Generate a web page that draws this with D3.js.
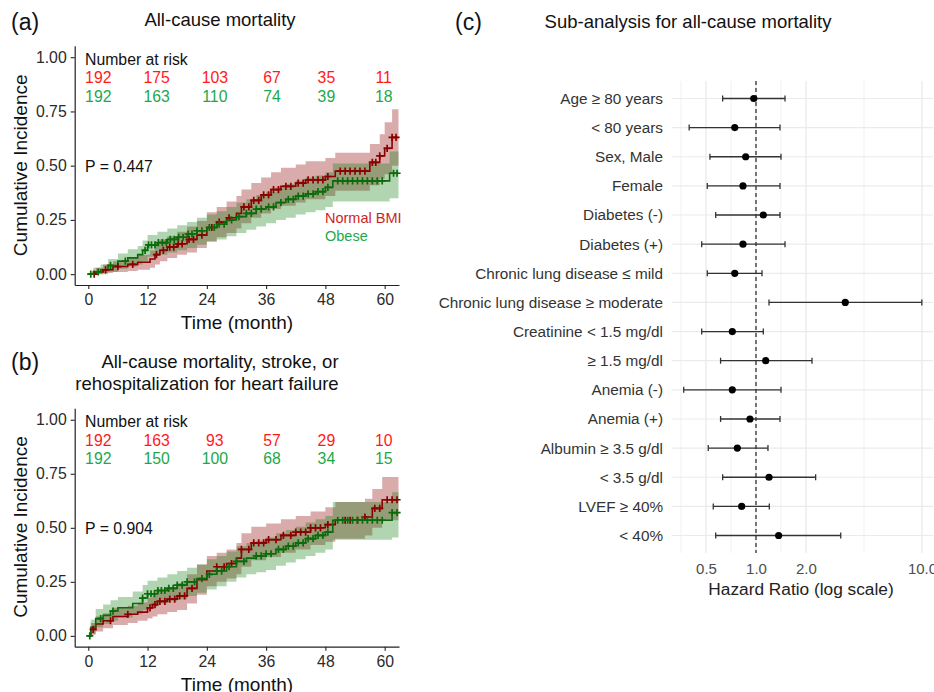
<!DOCTYPE html>
<html>
<head>
<meta charset="utf-8">
<script src="https://cdn.jsdelivr.net/npm/d3@7/dist/d3.min.js"></script>
<style>
body { margin: 0; background: #fff; }
svg text { font-family: "Liberation Sans", Arial, sans-serif; }
</style>
</head>
<body>
<svg id="fig" width="934" height="692"></svg>
<script>
// ---- data ----
var kmTicksX = [0, 12, 24, 36, 48, 60];
var kmTicksY = [0, 0.25, 0.5, 0.75, 1];
var groupNames = ["Normal BMI", "Obese"];

// (a) all-cause mortality
var aNormalTime = [0, 1.5, 3, 5, 8, 10, 12.5, 13.5, 14.5, 16, 18, 20, 22, 24, 26, 28, 30, 31, 33, 35, 37, 39, 42, 44, 48, 50, 57, 59, 60, 61.5];
var aNormalEst  = [0, 0.01, 0.02, 0.035, 0.045, 0.055, 0.07, 0.09, 0.11, 0.125, 0.14, 0.16, 0.18, 0.215, 0.24, 0.26, 0.28, 0.31, 0.34, 0.365, 0.39, 0.405, 0.42, 0.435, 0.45, 0.475, 0.515, 0.545, 0.58, 0.63];
var aNormalLow  = [0, 0, 0.005, 0.01, 0.015, 0.02, 0.03, 0.045, 0.06, 0.075, 0.09, 0.10, 0.12, 0.15, 0.17, 0.19, 0.21, 0.235, 0.26, 0.28, 0.30, 0.315, 0.33, 0.345, 0.36, 0.385, 0.41, 0.44, 0.46, 0.50];
var aNormalUpp  = [0, 0.03, 0.045, 0.06, 0.075, 0.09, 0.11, 0.135, 0.16, 0.175, 0.195, 0.22, 0.245, 0.285, 0.31, 0.335, 0.36, 0.39, 0.42, 0.445, 0.47, 0.49, 0.505, 0.52, 0.535, 0.56, 0.60, 0.645, 0.70, 0.76];
var aNormalCens = [1.2, 3.5, 6, 9, 13.8, 15.2, 16.5, 17.3, 18.2, 19, 20.4, 21.3, 23, 25, 26.5, 28.5, 31.5, 32.5, 33.5, 34.5, 35.5, 36.5, 37.5, 38.5, 40, 41, 42.5, 43.5, 44.5, 45.5, 46.5, 47.5, 48.5, 51, 52, 53, 54, 55, 56, 57.5, 58.2, 59, 60.5, 61.5, 62.3];

var aObeseTime = [0, 1, 2.5, 4, 6, 8, 10, 11, 12, 14, 16, 18, 20, 22, 24, 26, 28, 30, 32, 34, 36, 38, 40, 42, 44, 46, 48, 49.5, 61];
var aObeseEst  = [0, 0.01, 0.02, 0.04, 0.06, 0.075, 0.09, 0.11, 0.135, 0.145, 0.16, 0.17, 0.185, 0.20, 0.215, 0.23, 0.25, 0.265, 0.28, 0.30, 0.31, 0.33, 0.345, 0.36, 0.37, 0.38, 0.40, 0.43, 0.465];
var aObeseLow  = [0, 0, 0, 0.01, 0.025, 0.035, 0.045, 0.06, 0.08, 0.09, 0.10, 0.11, 0.12, 0.135, 0.15, 0.16, 0.175, 0.19, 0.205, 0.22, 0.235, 0.25, 0.26, 0.275, 0.285, 0.295, 0.31, 0.335, 0.35];
var aObeseUpp  = [0, 0.03, 0.045, 0.07, 0.095, 0.115, 0.13, 0.155, 0.18, 0.195, 0.21, 0.225, 0.24, 0.26, 0.275, 0.29, 0.31, 0.33, 0.345, 0.365, 0.38, 0.40, 0.415, 0.43, 0.445, 0.455, 0.47, 0.51, 0.565];
var aObeseCens = [0.5, 2, 4.5, 7.5, 11.5, 12.2, 12.8, 13.5, 14.2, 15, 15.8, 16.6, 17.4, 18.3, 19.2, 20.2, 21, 22, 23, 24.5, 25.5, 26.5, 27.5, 29, 30.5, 32, 33, 34, 35, 36.5, 37.5, 39, 40.5, 41.5, 42.5, 43.5, 44.5, 45.5, 46.5, 47.5, 48.5, 50.5, 51.5, 52.5, 53.5, 54.5, 55.5, 56.5, 57.5, 58.5, 59.5, 61.8, 62.5];

var aRiskNormal = [192, 175, 103, 67, 35, 11];
var aRiskObese  = [192, 163, 110, 74, 39, 18];

// (b) all-cause mortality, stroke, or rehospitalization for heart failure
var bNormalTime = [0, 0.5, 1.5, 3, 5, 8, 10, 12, 13, 14, 16, 18, 20, 22, 24, 26, 28, 30, 31, 33, 36, 39, 42, 45, 48, 50, 56, 57.5, 59.5];
var bNormalEst  = [0, 0.03, 0.055, 0.07, 0.09, 0.10, 0.11, 0.13, 0.145, 0.16, 0.17, 0.185, 0.22, 0.26, 0.30, 0.32, 0.335, 0.36, 0.40, 0.43, 0.445, 0.465, 0.48, 0.50, 0.515, 0.535, 0.55, 0.59, 0.63];
var bNormalLow  = [0, 0.005, 0.02, 0.035, 0.05, 0.06, 0.07, 0.08, 0.09, 0.10, 0.11, 0.12, 0.15, 0.19, 0.23, 0.25, 0.265, 0.285, 0.32, 0.35, 0.365, 0.385, 0.40, 0.42, 0.435, 0.45, 0.465, 0.50, 0.535];
var bNormalUpp  = [0, 0.06, 0.09, 0.105, 0.13, 0.14, 0.155, 0.175, 0.195, 0.21, 0.225, 0.245, 0.285, 0.33, 0.37, 0.385, 0.40, 0.43, 0.475, 0.505, 0.52, 0.54, 0.555, 0.575, 0.595, 0.62, 0.635, 0.68, 0.735];
var bNormalCens = [1, 4.5, 8, 12.5, 13.5, 14.5, 15.5, 16.5, 17.5, 18.5, 19.5, 21, 26, 27.5, 29, 31, 32.5, 33.5, 34.5, 35.5, 36.5, 38, 39.5, 41, 42, 43, 44, 45, 46, 47, 48.5, 52, 53, 54.5, 56, 58, 59, 60.5, 61.5, 62.5];

var bObeseTime = [0, 0.5, 1.5, 3, 4.5, 6, 9, 11, 12, 14, 16, 18, 20, 22, 24, 26, 28, 30, 32, 34, 36, 38, 40, 42, 44, 46, 48, 49.5, 61.5];
var bObeseEst  = [0, 0.04, 0.08, 0.095, 0.115, 0.13, 0.15, 0.175, 0.195, 0.21, 0.22, 0.235, 0.25, 0.265, 0.285, 0.30, 0.32, 0.345, 0.36, 0.37, 0.38, 0.40, 0.415, 0.43, 0.45, 0.465, 0.48, 0.535, 0.57];
var bObeseLow  = [0, 0.01, 0.04, 0.055, 0.07, 0.085, 0.10, 0.12, 0.135, 0.15, 0.16, 0.17, 0.185, 0.20, 0.215, 0.23, 0.25, 0.27, 0.285, 0.295, 0.305, 0.325, 0.34, 0.355, 0.37, 0.385, 0.40, 0.445, 0.455];
var bObeseUpp  = [0, 0.075, 0.125, 0.145, 0.165, 0.18, 0.205, 0.235, 0.255, 0.27, 0.285, 0.30, 0.315, 0.33, 0.355, 0.37, 0.39, 0.415, 0.43, 0.44, 0.455, 0.475, 0.49, 0.505, 0.525, 0.54, 0.555, 0.62, 0.665];
var bObeseCens = [0.3, 2.5, 5, 11, 12, 12.7, 13.4, 14.1, 14.8, 15.5, 16.3, 17.2, 18, 19, 20, 21.5, 23, 24.5, 26, 27, 28.5, 30, 31.5, 34, 35, 36, 37, 38.5, 39.5, 40.5, 41.5, 42.5, 43.5, 44.5, 45.5, 46.5, 47.5, 48.5, 50.5, 51.5, 52.5, 53.5, 54.5, 55.5, 56.5, 57.5, 58.5, 59.5, 61.5, 62.5];

var bRiskNormal = [192, 163, 93, 57, 29, 10];
var bRiskObese  = [192, 150, 100, 68, 34, 15];

var kmEndTime = 62.8;

// (c) sub-analysis hazard ratios
var forestLabels = ["Age \u2265 80 years", "< 80 years", "Sex, Male", "Female", "Diabetes (-)", "Diabetes (+)",
    "Chronic lung disease \u2264 mild", "Chronic lung disease \u2265 moderate", "Creatinine < 1.5 mg/dl", "\u2265 1.5 mg/dl",
    "Anemia (-)", "Anemia (+)", "Albumin \u2265 3.5 g/dl", "< 3.5 g/dl", "LVEF \u2265 40%", "< 40%"];
var forestHR  = [0.97, 0.745, 0.867, 0.835, 1.107, 0.835, 0.745, 3.45, 0.72, 1.144, 0.72, 0.92, 0.772, 1.198, 0.82, 1.369];
var forestLow = [0.63, 0.396, 0.528, 0.509, 0.572, 0.471, 0.509, 1.198, 0.471, 0.612, 0.367, 0.612, 0.516, 0.63, 0.553, 0.572];
var forestUpp = [1.496, 1.395, 1.415, 1.395, 1.395, 1.496, 1.087, 9.98, 1.107, 2.175, 1.415, 1.395, 1.181, 2.288, 1.203, 3.24];
var forestTicks = [0.5, 1, 2, 10];

/**
 * Zips the time / estimate / bounds arrays into rows and adds the last time point
 */
function curveRows(time, est, low, upp){
    var rows = time.map(function(t, i){
        return {t: t, est: est[i], low: low[i], upp: upp[i]};
    });
    var last = rows[rows.length - 1];
    rows.push({t: kmEndTime, est: last.est, low: last.low, upp: last.upp});
    return rows;
}

/**
 * Constructor for one cumulative incidence chart
 */
function KMChart(svg, top, bottom, groups, risk){
    var self = this;
    self.svg = svg;
    self.top = top;
    self.bottom = bottom;
    self.left = 74.7;
    self.right = 399;
    self.groups = groups;
    self.risk = risk;
    self.init();
};

KMChart.prototype.init = function(){
    var self = this;
    self.x = d3.scaleLinear().domain([-2.75, 62.9]).range([self.left, self.right]);
    self.y = d3.scaleLinear().domain([-0.05, 1.053]).range([self.bottom, self.top]);
    self.g = self.svg.append("g");
};

/**
 * Value of a step curve at time t
 */
KMChart.prototype.stepAt = function(rows, t){
    var v = 0;
    rows.forEach(function(r){
        if (r.t <= t) v = r.est;
    });
    return v;
};

KMChart.prototype.update = function(pText, yTitleY, showLegend){
    var self = this;
    var x = self.x, y = self.y, g = self.g;

    var area = d3.area().curve(d3.curveStepAfter)
        .x(function(d){ return x(d.t); })
        .y0(function(d){ return y(d.low); })
        .y1(function(d){ return y(d.upp); });
    var line = d3.line().curve(d3.curveStepAfter)
        .x(function(d){ return x(d.t); })
        .y(function(d){ return y(d.est); });

    //bands first, then the curves, then the censor marks
    self.groups.forEach(function(grp){
        g.append("path").attr("d", area(grp.rows))
            .attr("fill", grp.band).attr("fill-opacity", grp.bandOpacity).attr("stroke", "none");
    });
    self.groups.forEach(function(grp){
        g.append("path").attr("d", line(grp.rows))
            .attr("fill", "none").attr("stroke", grp.line).attr("stroke-width", 1.6);
    });
    self.groups.forEach(function(grp){
        g.selectAll(null).data(grp.cens).enter().append("path")
            .attr("transform", function(t){ return "translate(" + x(t) + "," + y(self.stepAt(grp.rows, t)) + ")"; })
            .attr("d", "M-3.6,0H3.6M0,-3.6V3.6")
            .attr("stroke", grp.line).attr("stroke-width", 1.7).attr("fill", "none");
    });

    //axes
    var yAxis = g.append("g").attr("transform", "translate(" + self.left + ",0)")
        .call(d3.axisLeft(y).tickValues(kmTicksY).tickFormat(d3.format(".2f")).tickSize(4).tickSizeOuter(0).tickPadding(4));
    var xAxis = g.append("g").attr("transform", "translate(0," + self.bottom + ")")
        .call(d3.axisBottom(x).tickValues(kmTicksX).tickSize(4).tickSizeOuter(0).tickPadding(5));
    [yAxis, xAxis].forEach(function(ax){
        ax.select(".domain").attr("stroke", "#222").attr("stroke-width", 1.2);
        ax.selectAll(".tick line").attr("stroke", "#222").attr("stroke-width", 1.1);
        ax.selectAll(".tick text").attr("fill", "#2b2b2b").style("font-size", "15.8px")
            .style("font-family", "'Liberation Sans', Arial, sans-serif");
    });

    g.append("text")
        .attr("transform", "translate(27," + yTitleY + ") rotate(-90)")
        .style("text-anchor", "middle").style("font-size", "19px").attr("fill", "#111")
        .text("Cumulative Incidence");
    g.append("text")
        .attr("x", 237).attr("y", self.bottom + 44)
        .style("text-anchor", "middle").style("font-size", "19px").attr("fill", "#111")
        .text("Time (month)");

    //number at risk table
    var riskTop = self.y(1) + 7.5;
    g.append("text").attr("x", 85).attr("y", riskTop)
        .style("font-size", "15.8px").attr("fill", "#111").text("Number at risk");
    var riskDx = [10, 9, 8, 6, 1, -1];
    self.risk.forEach(function(row, r){
        g.selectAll(null).data(row.values).enter().append("text")
            .attr("x", function(d, i){ return x(kmTicksX[i]) + riskDx[i]; })
            .attr("y", riskTop + 18.6 * (r + 1))
            .style("text-anchor", "middle").style("font-size", "15.8px")
            .attr("fill", row.color)
            .text(function(d){ return d; });
    });

    g.append("text").attr("x", 85).attr("y", self.y(0.5) + 6.5)
        .style("font-size", "15.8px").attr("fill", "#111").text(pText);

    if (showLegend){
        self.groups.forEach(function(grp, i){
            g.append("text").attr("x", 325).attr("y", self.y(0.25) + 3 + 18 * i)
                .style("font-size", "14.5px").attr("fill", grp.textColor).text(grp.name);
        });
    }
};

/**
 * Constructor for the forest plot of hazard ratios
 */
function ForestChart(svg){
    var self = this;
    self.svg = svg;
    self.init();
};

ForestChart.prototype.init = function(){
    var self = this;
    self.left = 672;
    self.right = 933;
    self.top = 81;
    self.bottom = 553;
    self.x = d3.scaleLog().domain([0.312, 11.65]).range([self.left, self.right]);
    self.y = d3.scalePoint().domain(forestLabels).range([self.top, self.bottom]).padding(0.6);
    self.g = self.svg.append("g");
};

ForestChart.prototype.update = function(){
    var self = this;
    var x = self.x, y = self.y, g = self.g;

    //minor gridlines sit halfway between the breaks in log space
    var breaks = [forestTicks[0] / 2].concat(forestTicks);
    var minor = d3.pairs(breaks).map(function(p){ return Math.sqrt(p[0] * p[1]); });
    g.selectAll(null).data(minor).enter().append("line")
        .attr("x1", function(d){ return x(d); }).attr("x2", function(d){ return x(d); })
        .attr("y1", self.top).attr("y2", self.bottom)
        .attr("stroke", "#efefef").attr("stroke-width", 0.9);
    g.selectAll(null).data(forestTicks).enter().append("line")
        .attr("x1", function(d){ return x(d); }).attr("x2", function(d){ return x(d); })
        .attr("y1", self.top).attr("y2", self.bottom)
        .attr("stroke", "#e8e8e8").attr("stroke-width", 1.2);
    g.selectAll(null).data(forestLabels).enter().append("line")
        .attr("x1", self.left).attr("x2", self.right)
        .attr("y1", function(d){ return y(d); }).attr("y2", function(d){ return y(d); })
        .attr("stroke", "#ebebeb").attr("stroke-width", 1.2);

    g.append("line")
        .attr("x1", x(1)).attr("x2", x(1)).attr("y1", self.top).attr("y2", self.bottom)
        .attr("stroke", "#333").attr("stroke-width", 1.3).attr("stroke-dasharray", "4,3");

    //error bars with caps, then points
    var rows = forestLabels.map(function(l, i){
        return {label: l, hr: forestHR[i], low: forestLow[i], upp: forestUpp[i]};
    });
    var bars = g.selectAll(null).data(rows).enter().append("g")
        .attr("transform", function(d){ return "translate(0," + y(d.label) + ")"; });
    bars.append("line")
        .attr("x1", function(d){ return x(d.low); }).attr("x2", function(d){ return x(d.upp); })
        .attr("stroke", "#333").attr("stroke-width", 1.3);
    bars.append("line")
        .attr("x1", function(d){ return x(d.low); }).attr("x2", function(d){ return x(d.low); })
        .attr("y1", -3).attr("y2", 3).attr("stroke", "#333").attr("stroke-width", 1.3);
    bars.append("line")
        .attr("x1", function(d){ return x(d.upp); }).attr("x2", function(d){ return x(d.upp); })
        .attr("y1", -3).attr("y2", 3).attr("stroke", "#333").attr("stroke-width", 1.3);
    bars.append("circle")
        .attr("cx", function(d){ return x(d.hr); }).attr("r", 3.6).attr("fill", "#000");

    var yAxis = g.append("g").attr("transform", "translate(" + self.left + ",0)")
        .call(d3.axisLeft(y).tickSize(0).tickPadding(9));
    yAxis.selectAll(".tick text").attr("fill", "#333").style("font-size", "15.3px")
        .style("font-family", "'Liberation Sans', Arial, sans-serif");
    var xAxis = g.append("g").attr("transform", "translate(0," + self.bottom + ")")
        .call(d3.axisBottom(x).tickValues(forestTicks).tickFormat(d3.format(".1f")).tickSize(0).tickPadding(10.5));
    xAxis.selectAll(".tick text").attr("fill", "#4d4d4d").style("font-size", "15px")
        .style("font-family", "'Liberation Sans', Arial, sans-serif");
    [yAxis, xAxis].forEach(function(ax){ ax.select(".domain").remove(); });

    g.append("text").attr("x", 801).attr("y", 595)
        .style("text-anchor", "middle").style("font-size", "17.3px").attr("fill", "#222")
        .text("Hazard Ratio (log scale)");
};

// ---- build the figure ----
var svg = d3.select("#fig");

var redLine = "#8b0000", greenLine = "#0b6b0b";
var redBand = "#8b0000", greenBand = "#118011";
var redText = "#ff1a1a", greenText = "#1ea84a";

var chartA = new KMChart(svg, 45.7, 285, [
    {name: groupNames[0], rows: curveRows(aNormalTime, aNormalEst, aNormalLow, aNormalUpp), cens: aNormalCens,
        line: redLine, band: redBand, bandOpacity: 0.33, textColor: "#cc1f1f"},
    {name: groupNames[1], rows: curveRows(aObeseTime, aObeseEst, aObeseLow, aObeseUpp), cens: aObeseCens,
        line: greenLine, band: greenBand, bandOpacity: 0.33, textColor: greenText}
], [{values: aRiskNormal, color: redText}, {values: aRiskObese, color: greenText}]);
chartA.update("P = 0.447", 165.3, true);

var chartB = new KMChart(svg, 408.3, 646.7, [
    {name: groupNames[0], rows: curveRows(bNormalTime, bNormalEst, bNormalLow, bNormalUpp), cens: bNormalCens,
        line: redLine, band: redBand, bandOpacity: 0.33, textColor: "#cc1f1f"},
    {name: groupNames[1], rows: curveRows(bObeseTime, bObeseEst, bObeseLow, bObeseUpp), cens: bObeseCens,
        line: greenLine, band: greenBand, bandOpacity: 0.33, textColor: greenText}
], [{values: bRiskNormal, color: redText}, {values: bRiskObese, color: greenText}]);
chartB.update("P = 0.904", 527, false);

var forest = new ForestChart(svg);
forest.update();

// panel letters and titles
var titles = [
    {text: "(a)", x: 11, y: 30, size: 23, anchor: "start"},
    {text: "All-cause mortality", x: 220, y: 26, size: 18.5, anchor: "middle"},
    {text: "(b)", x: 11, y: 370, size: 23, anchor: "start"},
    {text: "All-cause mortality, stroke, or", x: 220, y: 368, size: 18.5, anchor: "middle"},
    {text: "rehospitalization for heart failure", x: 207, y: 389.5, size: 18.5, anchor: "middle"},
    {text: "(c)", x: 455, y: 30, size: 23, anchor: "start"},
    {text: "Sub-analysis for all-cause mortality", x: 688, y: 28, size: 18.5, anchor: "middle"}
];
svg.selectAll(null).data(titles).enter().append("text")
    .attr("x", function(d){ return d.x; }).attr("y", function(d){ return d.y; })
    .style("font-size", function(d){ return d.size + "px"; })
    .style("text-anchor", function(d){ return d.anchor; })
    .attr("fill", "#111")
    .text(function(d){ return d.text; });
</script>
</body>
</html>
